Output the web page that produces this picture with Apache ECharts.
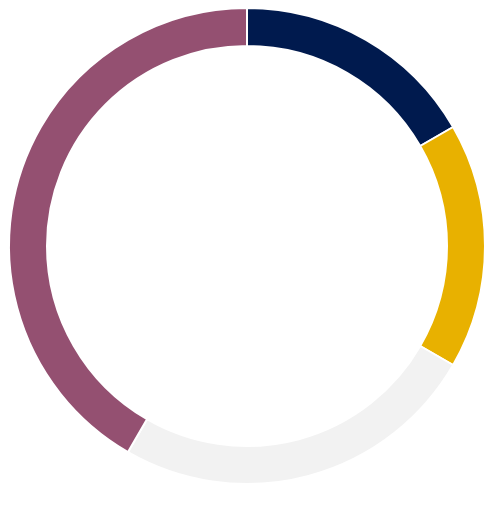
<!DOCTYPE html>
<html><head><meta charset="utf-8">
<script src="https://cdn.jsdelivr.net/npm/echarts@6/dist/echarts.min.js"></script>
<style>html,body{margin:0;padding:0;background:#fff}#c{width:495px;height:505px}</style>
</head><body><div id="c"></div>
<script>
const categories = ['A', 'B', 'C', 'D'];
const values = [2, 2, 3, 5];
const colors = ['#001A4E', '#E8B100', '#F2F2F2', '#945071'];
const chart = echarts.init(document.getElementById('c'), null, {renderer: 'canvas'});
chart.setOption({
  animation: false,
  series: [{
    type: 'pie',
    center: [247, 246],
    radius: [200, 238],
    startAngle: 90,
    clockwise: true,
    label: {show: false},
    labelLine: {show: false},
    emphasis: {disabled: true},
    itemStyle: {borderColor: '#ffffff', borderWidth: 2},
    data: categories.map((c, i) => ({name: c, value: values[i], itemStyle: {color: colors[i]}}))
  }]
});
</script></body></html>
